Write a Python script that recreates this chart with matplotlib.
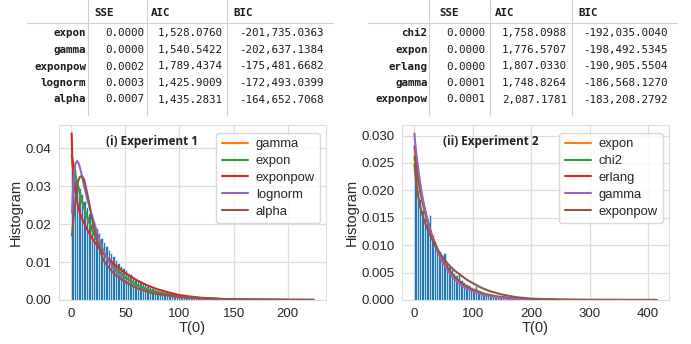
import matplotlib
matplotlib.use("Agg")
import matplotlib.pyplot as plt
import numpy as np
import seaborn as sns
from matplotlib.lines import Line2D
from matplotlib.ticker import MultipleLocator, FormatStrFormatter

# ---- tables (fit summaries) ----
left_names = ["expon", "gamma", "exponpow", "lognorm", "alpha"]
left_sse = [0.0000, 0.0000, 0.0002, 0.0003, 0.0007]
left_aic = [1528.0760, 1540.5422, 1789.4374, 1425.9009, 1435.2831]
left_bic = [-201735.0363, -202637.1384, -175481.6682, -172493.0399, -164652.7068]

right_names = ["chi2", "expon", "erlang", "gamma", "exponpow"]
right_sse = [0.0000, 0.0000, 0.0000, 0.0001, 0.0001]
right_aic = [1758.0988, 1776.5707, 1807.0330, 1748.8264, 2087.1781]
right_bic = [-192035.0040, -198492.5345, -190905.5504, -186568.1270, -183208.2792]

# ---- histogram heights (density) ----
left_bin_width = 2.24
left_hist = [0.0355, 0.0345, 0.0320, 0.0295, 0.0280, 0.0262, 0.0245, 0.0230, 0.0215, 0.0205,
             0.0190, 0.0178, 0.0165, 0.0152, 0.0143, 0.0132, 0.0123, 0.0115, 0.0106, 0.0098,
             0.0091, 0.0085, 0.0078, 0.0072, 0.0069, 0.0062, 0.0058, 0.0053, 0.0049, 0.0045,
             0.0042, 0.0038, 0.0035, 0.0032, 0.0030, 0.0027, 0.0025, 0.0023, 0.0021, 0.0019,
             0.0018, 0.0016, 0.0015, 0.0013, 0.0012, 0.0011, 0.0012, 0.0009, 0.0008, 0.0007,
             0.0006, 0.0006, 0.0005, 0.0005, 0.0004, 0.0004, 0.0003, 0.0003, 0.0003, 0.0002,
             0.0002, 0.0002, 0.0002, 0.0001, 0.0001, 0.0001, 0.0001, 0.0001]

right_bin_width = 4.15
right_hist = [0.0245, 0.0200, 0.0185, 0.0165, 0.0150, 0.0138, 0.0155, 0.0118, 0.0105, 0.0098,
              0.0090, 0.0082, 0.0085, 0.0068, 0.0062, 0.0056, 0.0050, 0.0045, 0.0050, 0.0036,
              0.0033, 0.0030, 0.0027, 0.0024, 0.0022, 0.0025, 0.0018, 0.0016, 0.0014, 0.0013,
              0.0012, 0.0011, 0.0010, 0.0009, 0.0008, 0.0007, 0.0007, 0.0006, 0.0005, 0.0005,
              0.0004, 0.0004, 0.0003, 0.0003, 0.0002, 0.0002, 0.0002, 0.0001, 0.0001, 0.0001]

left_curves = {
    "gamma": ([0.5, 2, 5, 10, 15, 20, 25, 30, 35, 40, 50, 60, 70, 80, 90, 100, 110, 120, 140, 160, 180, 200, 224],
              [0.0365, 0.0345, 0.0312, 0.0260, 0.0217, 0.0180, 0.0150, 0.0125, 0.0104, 0.0086, 0.0060, 0.0041,
               0.0028, 0.0020, 0.0014, 0.00093, 0.00065, 0.00045, 0.00022, 0.00010, 0.00005, 0.00002, 0.00001]),
    "expon": ([0.5, 2, 5, 10, 15, 20, 25, 30, 35, 40, 50, 60, 70, 80, 90, 100, 110, 120, 140, 160, 180, 200, 224],
              [0.0380, 0.0360, 0.0316, 0.0262, 0.0218, 0.0181, 0.0151, 0.0125, 0.0104, 0.0086, 0.0060, 0.0041,
               0.0028, 0.0020, 0.0014, 0.00093, 0.00065, 0.00045, 0.00022, 0.00010, 0.00005, 0.00002, 0.00001]),
    "exponpow": ([0.5, 1, 2, 3, 5, 8, 10, 15, 20, 25, 30, 35, 40, 50, 60, 70, 80, 90, 100, 110, 120, 140, 160, 180, 200, 224],
                 [0.0440, 0.0380, 0.0330, 0.0300, 0.0265, 0.0230, 0.0215, 0.0185, 0.0160, 0.0140, 0.0122, 0.0107,
                  0.0094, 0.0071, 0.0053, 0.0039, 0.0028, 0.0020, 0.0013, 0.0009, 0.0006, 0.00025, 0.00010,
                  0.00004, 0.00001, 0.0]),
    "lognorm": ([0.8, 2, 3, 4, 5.5, 7, 9, 12, 15, 20, 25, 30, 35, 40, 50, 60, 75, 100, 125, 150, 175, 200, 224],
                [0.0230, 0.0300, 0.0340, 0.0360, 0.0367, 0.0360, 0.0340, 0.0300, 0.0265, 0.0215, 0.0168, 0.0128,
                 0.0100, 0.0079, 0.0050, 0.0033, 0.0018, 0.0007, 0.0003, 0.00014, 0.00007, 0.00004, 0.00002]),
    "alpha": ([0.8, 2, 4, 6, 8, 10, 12, 15, 20, 25, 30, 35, 40, 45, 50, 60, 75, 100, 125, 150, 175, 200, 224],
              [0.0170, 0.0210, 0.0270, 0.0310, 0.0325, 0.0327, 0.0318, 0.0280, 0.0205, 0.0145, 0.0104, 0.0085,
               0.0068, 0.0057, 0.0047, 0.0032, 0.0018, 0.0008, 0.0004, 0.0002, 0.00012, 0.00008, 0.00005]),
}

right_curves = {
    "expon": ([0.5, 5, 10, 15, 20, 25, 30, 40, 50, 60, 70, 80, 90, 100, 120, 140, 160, 180, 200, 250, 300, 415],
              [0.0257, 0.0228, 0.0200, 0.0175, 0.0154, 0.0135, 0.0118, 0.0091, 0.0070, 0.0054, 0.0041, 0.0032,
               0.0024, 0.0019, 0.0011, 0.00065, 0.00039, 0.00023, 0.00013, 0.00003, 0.00001, 0.0]),
    "chi2": ([0.5, 5, 10, 15, 20, 25, 30, 40, 50, 60, 70, 80, 90, 100, 120, 140, 160, 180, 200, 250, 300, 415],
             [0.0262, 0.0230, 0.0201, 0.0176, 0.0154, 0.0135, 0.0118, 0.0091, 0.0070, 0.0054, 0.0041, 0.0032,
              0.0024, 0.0019, 0.0011, 0.00065, 0.00039, 0.00023, 0.00013, 0.00003, 0.00001, 0.0]),
    "erlang": ([0.5, 3, 5, 10, 15, 20, 25, 30, 40, 50, 60, 70, 80, 90, 100, 120, 140, 160, 180, 200, 250, 300, 415],
               [0.0280, 0.0260, 0.0242, 0.0208, 0.0180, 0.0157, 0.0137, 0.0119, 0.0091, 0.0069, 0.0053, 0.0040,
                0.0031, 0.0023, 0.0018, 0.0010, 0.0006, 0.00034, 0.00020, 0.00011, 0.00002, 0.0, 0.0]),
    "gamma": ([0.5, 2, 4, 6, 10, 15, 20, 25, 30, 40, 50, 60, 70, 80, 90, 100, 120, 140, 160, 180, 200, 250, 300, 415],
              [0.0304, 0.0285, 0.0265, 0.0248, 0.0215, 0.0183, 0.0158, 0.0136, 0.0117, 0.0088, 0.0066, 0.0050,
               0.0037, 0.0028, 0.0021, 0.0016, 0.0009, 0.0005, 0.00028, 0.00016, 0.00009, 0.00002, 0.0, 0.0]),
    "exponpow": ([0.5, 3, 6, 10, 15, 20, 25, 30, 40, 50, 60, 70, 80, 90, 100, 110, 120, 130, 150, 175, 200, 250, 300, 415],
                 [0.0247, 0.0220, 0.0195, 0.0172, 0.0152, 0.0137, 0.0124, 0.0112, 0.0092, 0.0076, 0.0063, 0.0053,
                  0.0045, 0.0037, 0.0031, 0.0025, 0.0020, 0.0016, 0.0010, 0.0005, 0.00025, 0.00006, 0.00002, 0.0]),
}

panel_titles = ["(i) Experiment 1", "(ii) Experiment 2"]
line_colors = ["#ff7f0e", "#2ca02c", "#d62728", "#9467bd", "#8c564b"]

sns.set_style("whitegrid")
plt.rcParams["font.family"] = ["Liberation Sans", "DejaVu Sans"]

W, H = 691, 344
fig = plt.figure(figsize=(W / 100, H / 100), dpi=100)


def fx(px):
    return px / W


def fy(py):
    return 1 - py / H


def draw_table(x_off, names, sse, aic, bic, seps, heads, rights, hline):
    mono = "DejaVu Sans Mono"
    txt = "#1a1a1a"
    sep = "#d0d0d0"
    fs = 7.8
    head_y = 13
    row_y = [33.3, 50.0, 66.5, 83.0, 99.5]
    for hl, h in zip(heads, ["SSE", "AIC", "BIC"]):
        fig.text(fx(x_off + hl), fy(head_y), h, family=mono, weight="bold", fontsize=fs,
                 color=txt, ha="left", va="center")
    for sx in seps:
        fig.add_artist(Line2D([fx(x_off + sx)] * 2, [fy(0), fy(115)], transform=fig.transFigure,
                              color=sep, lw=0.8))
    fig.add_artist(Line2D([fx(x_off + hline[0]), fx(x_off + hline[1])], [fy(23), fy(23)],
                          transform=fig.transFigure, color=sep, lw=0.8))
    for i, name in enumerate(names):
        y = fy(row_y[i])
        fig.text(fx(x_off + seps[0] - 1.5), y, name, family=mono, weight="bold", fontsize=fs,
                 color=txt, ha="right", va="center")
        vals = [f"{sse[i]:.4f}", f"{aic[i]:,.4f}", f"{bic[i]:,.4f}"]
        for vr, v in zip(rights, vals):
            fig.text(fx(x_off + vr), y, v, family=mono, fontsize=fs, color=txt,
                     ha="right", va="center")


draw_table(0, left_names, left_sse, left_aic, left_bic,
           [88, 147, 227], [94, 151, 233], [144, 223, 324], (27, 333))
draw_table(345, right_names, right_sse, right_aic, right_bic,
           [84, 145, 227], [94, 150, 233], [140, 222, 323], (23, 332))


def draw_panel(rect, hist, bw, curves, title, title_x, ystep, yfmt):
    ax = fig.add_axes(rect)
    edges = np.arange(len(hist)) * bw
    ax.bar(edges, hist, width=bw, align="edge", color="#1f77b4", edgecolor="white", linewidth=0.4)
    for (name, (xs, ys)), c in zip(curves.items(), line_colors):
        ax.plot(xs, ys, lw=1.5, color=c, label=name)
    ax.yaxis.set_major_locator(MultipleLocator(ystep))
    ax.yaxis.set_major_formatter(FormatStrFormatter(yfmt))
    ax.set_xlabel("T(0)", fontsize=10.5, labelpad=1)
    ax.set_ylabel("Histogram", fontsize=10.5, labelpad=2)
    ax.tick_params(labelsize=9.5, pad=2)
    for s in ax.spines.values():
        s.set_color("#dddddd")
    ax.grid(color="#dedede", lw=0.9)
    ax.legend(loc="upper right", bbox_to_anchor=(1 - 6 / 267, 1 - 8 / 175), borderaxespad=0,
              fontsize=9.4, frameon=True, edgecolor="#d0d0d0", labelspacing=0.36,
              handlelength=2.0, handletextpad=0.6)
    ax.text(title_x, 0.905, title, transform=ax.transAxes, fontsize=8.5, weight="bold",
            family=["Open Sans", "DejaVu Sans"], ha="left", va="center", color="#222222")
    return ax


draw_panel([fx(59), fy(300), fx(326) - fx(59), fy(125) - fy(300)], left_hist, left_bin_width,
           left_curves, panel_titles[0], (106 - 59) / 267, 0.01, "%.2f")
draw_panel([fx(402), fy(300), fx(669) - fx(402), fy(125) - fy(300)], right_hist, right_bin_width,
           right_curves, panel_titles[1], (443 - 402) / 267, 0.005, "%.3f")

fig.savefig("out.png", dpi=100)
